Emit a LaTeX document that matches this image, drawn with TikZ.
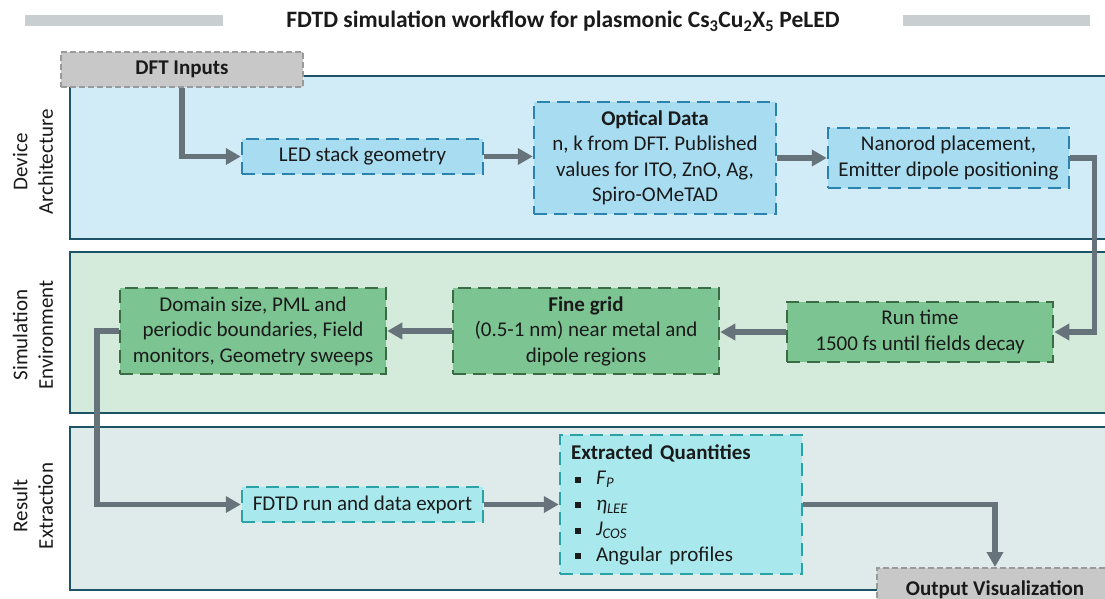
\documentclass[tikz,border=0pt]{standalone}
\usepackage{fontspec}
\setmainfont{Carlito}
\usetikzlibrary{arrows.meta}
\definecolor{bandline}{HTML}{1D5366}
\definecolor{bandblue}{HTML}{D2ECF7}
\definecolor{bandgreen}{HTML}{D4EADB}
\definecolor{bandgray}{HTML}{DFEBEA}
\definecolor{boxblue}{HTML}{A8DCF1}
\definecolor{lineblue}{HTML}{2A83AE}
\definecolor{boxgreen}{HTML}{7DC493}
\definecolor{linegreen}{HTML}{3B6B45}
\definecolor{boxteal}{HTML}{A9E9ED}
\definecolor{lineteal}{HTML}{2BA2A6}
\definecolor{boxgray}{HTML}{C8C8C8}
\definecolor{linegray}{HTML}{9A9A9A}
\definecolor{arrowc}{HTML}{67737B}
\definecolor{barc}{HTML}{C9CED1}
\definecolor{txt}{HTML}{1A1A1A}
\newcommand\boxfont{\fontsize{21}{25.5}\selectfont}
\tikzset{
  band/.style={draw=bandline, line width=2pt},
  wbox/.style={rectangle, line width=2.5pt, dash pattern=on 13pt off 7pt, align=center, inner sep=0pt, font=\boxfont, text=txt},
  bluebox/.style={wbox, fill=boxblue, draw=lineblue},
  greenbox/.style={wbox, fill=boxgreen, draw=linegreen},
  tealbox/.style={wbox, fill=boxteal, draw=lineteal},
  graybox/.style={wbox, fill=boxgray, draw=linegray, line width=2pt, dash pattern=on 6pt off 3pt, font=\boxfont\bfseries},
  arr/.style={draw=arrowc, line width=5.5pt, -{Triangle[length=15pt,width=16pt]}},
  lanelabel/.style={rotate=90, align=center, font=\boxfont, text=txt},
}
\begin{document}
\begin{tikzpicture}[x=1pt,y=-1pt]
\useasboundingbox (0,0) rectangle (1105,599);
\clip (0,0) rectangle (1105,599);
\fill[white] (0,0) rectangle (1105,599);
% title
\fill[barc] (25,15) rectangle (223,26);
\fill[barc] (903,15) rectangle (1090,26);
\node[font=\fontsize{23.5}{27}\selectfont\bfseries, text=txt] (title) at (563,21)
  {FDTD simulation workflow for plasmonic Cs\textsubscript{3}Cu\textsubscript{2}X\textsubscript{5} PeLED};
% bands
\draw[band, fill=bandblue] (70,76) rectangle (1120,239);
\draw[band, fill=bandgreen] (70,252) rectangle (1120,413);
\draw[band, fill=bandgray] (70,427) rectangle (1120,590);
\node[lanelabel] (lab1) at (33,162) {Device\\Architecture};
\node[lanelabel] (lab2) at (33,335) {Simulation\\Environment};
\node[lanelabel] (lab3) at (33,506) {Result\\Extraction};
% boxes
\node[graybox, minimum width=242, minimum height=35] (dft) at (182,69.5) {DFT Inputs};
\node[bluebox, minimum width=241, minimum height=35] (led) at (362.5,156.5) {LED stack geometry};
\node[bluebox, minimum width=242, minimum height=112] (opt) at (655,158)
  {\textbf{Optical Data}\\n, k from DFT. Published\\values for ITO, ZnO, Ag,\\Spiro-OMeTAD};
\node[bluebox, minimum width=241, minimum height=60] (nano) at (948.5,158)
  {Nanorod placement,\\Emitter dipole positioning};
\node[greenbox, minimum width=266, minimum height=86] (dom) at (253,331)
  {Domain size, PML and\\periodic boundaries, Field\\monitors, Geometry sweeps};
\node[greenbox, minimum width=266, minimum height=86] (fine) at (586,331)
  {\textbf{Fine grid}\\(0.5-1 nm) near metal and\\dipole regions};
\node[greenbox, minimum width=266, minimum height=60] (run) at (920,332)
  {Run time\\1500 fs until fields decay};
\node[tealbox, minimum width=241, minimum height=35] (fdtd) at (362.5,504.5) {FDTD run and data export};
\node[tealbox, minimum width=242, minimum height=139, text width=220, align=left] (ext) at (681,504.5)
  {\textbf{Extracted Quantities}\\
   \hspace*{4pt}\rule[2pt]{6pt}{6pt}\hspace{15pt}\textit{F}\textsubscript{\textit{P}}\\
   \hspace*{4pt}\rule[2pt]{6pt}{6pt}\hspace{15pt}\textit{η}\textsubscript{\textit{LEE}}\\
   \hspace*{4pt}\rule[2pt]{6pt}{6pt}\hspace{15pt}\textit{J}\textsubscript{\textit{COS}}\\
   \hspace*{4pt}\rule[2pt]{6pt}{6pt}\hspace{15pt}Angular profiles};
\node[graybox, minimum width=236, minimum height=44] (out) at (995,590) {Output Visualization};
% connectors
\draw[arr] (dft.south) |- (led.west);
\draw[arr] (led.east) -- (opt.west |- led.east);
\draw[arr] (opt.east) -- (nano.west);
\draw[arr] (nano.east) -- ++(24,0) |- (run.east);
\draw[arr] (run.west) -- (fine.east |- run.west);
\draw[arr] (fine.west) -- (dom.east);
\draw[arr] (dom.west) -- ++(-22,0) |- (fdtd.west);
\draw[arr] (fdtd.east) -- (ext.west |- fdtd.east);
\draw[arr] (ext.east) -| (out.north);
\end{tikzpicture}
\end{document}
